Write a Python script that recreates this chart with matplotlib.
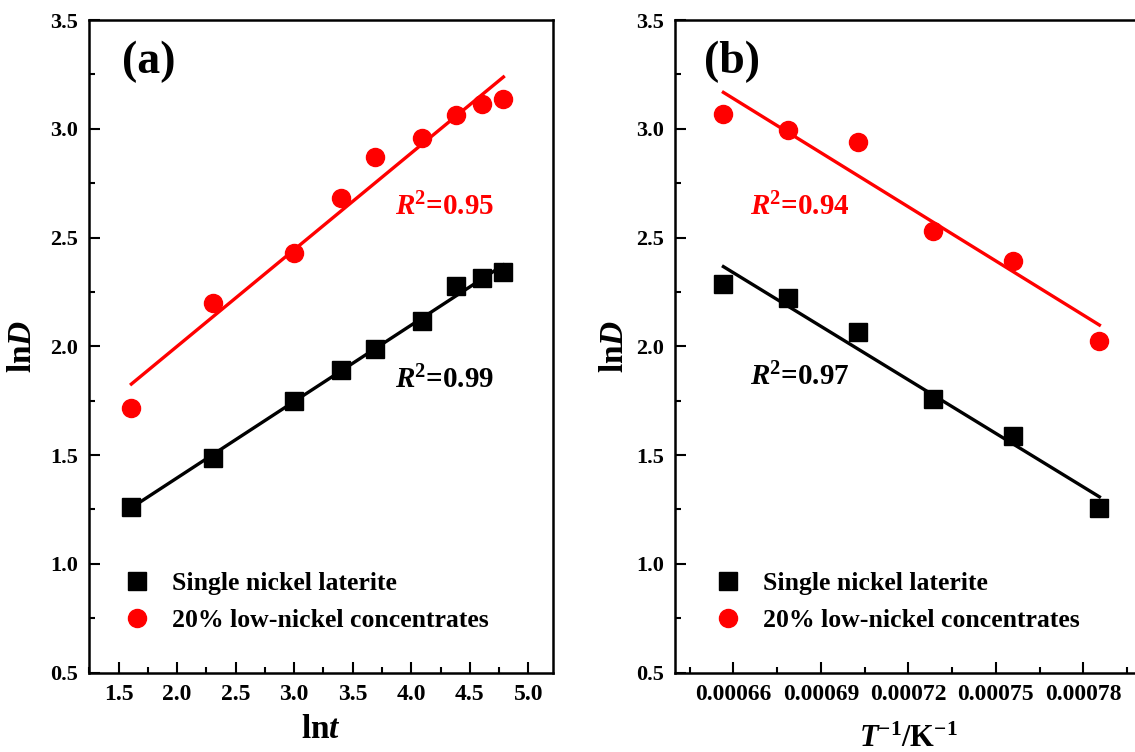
import numpy as np
import matplotlib as mpl
import matplotlib.pyplot as plt
from matplotlib.ticker import MultipleLocator, FuncFormatter

# data
ln_t = [1.609, 2.303, 2.996, 3.401, 3.689, 4.094, 4.382, 4.605, 4.787]
lnD_single_a = [1.262, 1.488, 1.748, 1.891, 1.987, 2.116, 2.278, 2.312, 2.343]
lnD_mixed_a = [1.715, 2.197, 2.427, 2.680, 2.872, 2.956, 3.063, 3.114, 3.135]

inv_T = [0.0006566, 0.0006789, 0.0007027, 0.0007283, 0.0007559, 0.0007855]
lnD_single_b = [2.285, 2.220, 2.067, 1.757, 1.589, 1.255]
lnD_mixed_b = [3.066, 2.994, 2.938, 2.531, 2.392, 2.026]

labels = ['Single nickel laterite', '20% low-nickel concentrates']
r2_a = ['0.99', '0.95']
r2_b = ['0.97', '0.94']

# configuration
mpl.rcParams['font.family'] = 'Liberation Serif'
mpl.rcParams['font.weight'] = 'bold'
mpl.rcParams['axes.labelweight'] = 'bold'
mpl.rcParams['mathtext.fontset'] = 'custom'
mpl.rcParams['mathtext.rm'] = 'Liberation Serif:bold'
mpl.rcParams['mathtext.bf'] = 'Liberation Serif:bold'
mpl.rcParams['mathtext.it'] = 'Liberation Serif:italic:bold'
mpl.rcParams['mathtext.bfit'] = 'Liberation Serif:italic:bold'
mpl.rcParams['axes.linewidth'] = 1.8
mpl.rcParams['xtick.direction'] = 'in'
mpl.rcParams['ytick.direction'] = 'in'

fig = plt.figure(figsize=(11.35, 7.52), dpi=100)
ax1 = fig.add_axes([0.0787, 0.1057, 0.4085, 0.8677])
ax2 = fig.add_axes([0.5947, 0.1057, 0.4112, 0.8677])


def draw(ax, x, ys, r2, r2_pos, letter):
    x = np.array(x)
    cols = ['black', 'red']
    marks = ['s', 'o']
    for y, c, m, lab in zip(ys, cols, marks, labels):
        ax.plot(x, y, m, color=c, markersize=13, label=lab, linestyle='none')
        k, b = np.polyfit(x, y, 1)
        xx = np.array([x.min(), x.max()])
        ax.plot(xx, k * xx + b, '-', color=c, linewidth=2.4)
    for r, c, pos in zip(r2, cols, r2_pos):
        ax.text(pos[0], pos[1], r'$\mathbfit{R}^{2}$=' + r, color=c, fontsize=21,
                fontweight='bold', transform=ax.transData, va='baseline')
    ax.text(letter[0], 0.919, letter[1], transform=ax.transAxes, fontsize=33,
            fontweight='bold', va='baseline')
    ax.set_ylim(0.5, 3.5)
    ax.yaxis.set_major_locator(MultipleLocator(0.5))
    ax.yaxis.set_minor_locator(MultipleLocator(0.25))
    ax.tick_params(which='major', length=8, width=1.5)
    ax.tick_params(which='minor', length=4, width=1.5)
    ax.tick_params(axis='y', labelsize=16, pad=8)
    ax.tick_params(axis='x', labelsize=17, pad=8)
    ax.set_ylabel(r'ln$\mathbfit{D}$', fontsize=24)
    ax.legend(loc='lower left', bbox_to_anchor=(letter[2], 0.062), frameon=False,
              handlelength=1.0, handletextpad=0.85, labelspacing=0.55,
              borderpad=0, borderaxespad=0, prop={'weight': 'bold', 'size': 18.5})


draw(ax1, ln_t, [lnD_single_a, lnD_mixed_a], r2_a,
     [(3.86, 1.808), (3.86, 2.603)], (0.07, '(a)', 0.075))
ax1.set_xlim(1.25, 5.21)
ax1.xaxis.set_major_locator(MultipleLocator(0.5))
ax1.xaxis.set_minor_locator(MultipleLocator(0.25))
ax1.set_xlabel(r'ln$\mathbfit{t}$', fontsize=24)
ax1.yaxis.set_label_coords(-0.11, 0.5)
ax1.xaxis.set_label_coords(0.5, -0.064)

draw(ax2, inv_T, [lnD_single_b, lnD_mixed_b], r2_b,
     [(0.0006657, 1.82), (0.0006657, 2.603)], (0.062, '(b)', 0.087))
ax2.set_xlim(0.00064, 0.0008)
ax2.xaxis.set_major_locator(MultipleLocator(0.00003))
ax2.xaxis.set_minor_locator(MultipleLocator(0.000015))
ax2.xaxis.set_major_formatter(FuncFormatter(lambda v, p: '%.5f' % v))
ax2.set_xlabel(r'$\mathbfit{T}^{-1}$/K$^{-1}$', fontsize=22)
ax2.yaxis.set_label_coords(-0.097, 0.5)
ax2.xaxis.set_label_coords(0.5, -0.08)

fig.savefig('out.png', dpi=100)
